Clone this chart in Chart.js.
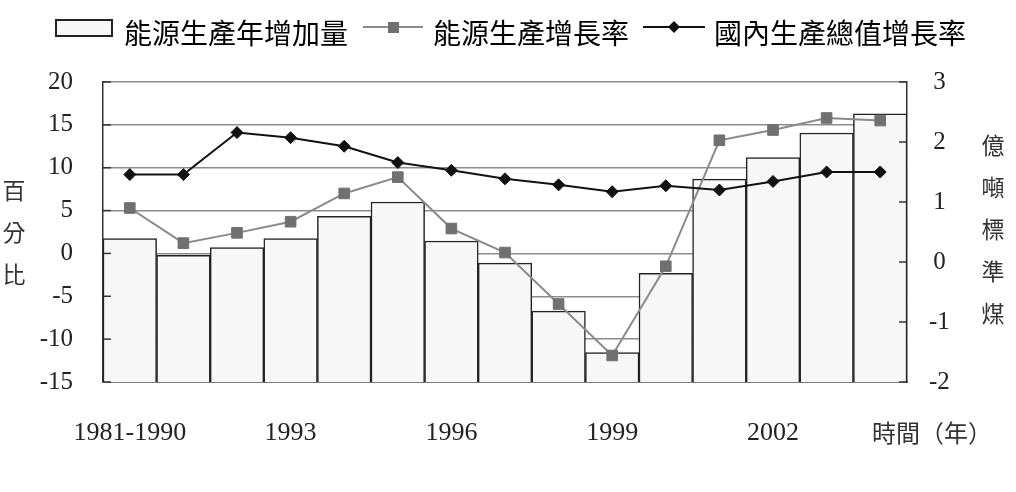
<!DOCTYPE html>
<html>
<head>
<meta charset="utf-8">
<script src="https://cdn.jsdelivr.net/npm/chart.js@4/dist/chart.umd.min.js"></script>
<style>
  body { margin: 0; background: #fff; }
  #divGrafico { width: 1016px; height: 492px; }
</style>
</head>
<body>
<div id="divGrafico"><canvas id="grafico"></canvas></div>
<script>
// categorias y series
const years = ['1981-1990', '1991', '1992', '1993', '1994', '1995', '1996', '1997',
  '1998', '1999', '2000', '2001', '2002', '2003', '2004'];
const shownYears = ['1981-1990', '1993', '1996', '1999', '2002'];
const incremento = [0.39, 0.11, 0.24, 0.39, 0.76, 1.0, 0.35, -0.02, -0.82, -1.51, -0.19, 1.38, 1.74, 2.15, 2.47];
const crecEnergia = [5.3, 1.2, 2.4, 3.7, 7.0, 8.9, 2.9, 0.1, -5.9, -11.9, -1.5, 13.2, 14.4, 15.8, 15.5];
const crecPib = [9.2, 9.2, 14.1, 13.5, 12.5, 10.6, 9.7, 8.7, 8.0, 7.2, 7.9, 7.4, 8.4, 9.5, 9.5];
const nombres = ['能源生產年增加量', '能源生產增長率', '國內生產總值增長率'];
const tituloIzq = '百分比';
const tituloDer = '億噸標準煤';
const tituloX = '時間（年）';

const serif = 'Liberation Serif';
const cjk = '"Noto Sans CJK TC"';

// simbolos de la leyenda
function simbolo(w, h, dibujar) {
  const c = document.createElement('canvas');
  c.width = w;
  c.height = h;
  dibujar(c.getContext('2d'));
  return c;
}
const simBarra = simbolo(58, 28, (g) => {
  g.fillStyle = '#f7f7f7';
  g.fillRect(1, 1, 56, 16);
  g.strokeStyle = '#222';
  g.lineWidth = 2;
  g.strokeRect(1, 1, 56, 16);
});
const simGris = simbolo(60, 28, (g) => {
  g.strokeStyle = '#8a8a8a';
  g.lineWidth = 2;
  g.beginPath(); g.moveTo(0, 8); g.lineTo(60, 8); g.stroke();
  g.fillStyle = '#707070';
  g.fillRect(25, 3, 11, 11);
});
const simNegro = simbolo(62, 28, (g) => {
  g.strokeStyle = '#111';
  g.lineWidth = 2;
  g.beginPath(); g.moveTo(0, 8); g.lineTo(62, 8); g.stroke();
  g.fillStyle = '#111';
  g.beginPath();
  g.moveTo(31, 2); g.lineTo(37, 8); g.lineTo(31, 14); g.lineTo(25, 8);
  g.closePath(); g.fill();
});
const simbolos = [simBarra, simGris, simNegro];

// marcas cortas hacia dentro en los dos ejes verticales
const marcasInternas = {
  id: 'marcasInternas',
  afterDatasetsDraw(chart) {
    const { ctx, chartArea, scales } = chart;
    ctx.save();
    ctx.strokeStyle = '#333';
    ctx.lineWidth = 1.5;
    scales.y.ticks.forEach((t) => {
      const py = scales.y.getPixelForValue(t.value);
      ctx.beginPath(); ctx.moveTo(chartArea.left, py); ctx.lineTo(chartArea.left + 8, py); ctx.stroke();
    });
    scales.y1.ticks.forEach((t) => {
      const py = scales.y1.getPixelForValue(t.value);
      ctx.beginPath(); ctx.moveTo(chartArea.right - 8, py); ctx.lineTo(chartArea.right, py); ctx.stroke();
    });
    ctx.restore();
  }
};

// titulos de ejes en vertical
const titulosEjes = {
  id: 'titulosEjes',
  afterDraw(chart) {
    const { ctx, chartArea } = chart;
    const midY = (chartArea.top + chartArea.bottom) / 2;
    ctx.save();
    ctx.fillStyle = '#333';
    ctx.textAlign = 'center';
    ctx.textBaseline = 'middle';
    ctx.font = '23px ' + cjk;
    const izq = tituloIzq.split('');
    izq.forEach((c, i) => ctx.fillText(c, 14, midY + (i - (izq.length - 1) / 2) * 42));
    const der = tituloDer.split('');
    der.forEach((c, i) => ctx.fillText(c, 993, midY - 3 + (i - (der.length - 1) / 2) * 42));
    ctx.font = '24px ' + cjk;
    ctx.fillText(tituloX, 932, chartArea.bottom + 51);
    ctx.restore();
  }
};

const tickFont = { family: serif, size: 25 };

new Chart(document.getElementById('grafico'), {
  data: {
    labels: years,
    datasets: [
      {
        type: 'bar',
        label: nombres[0],
        data: incremento,
        yAxisID: 'y1',
        base: -2,
        backgroundColor: '#f7f7f7',
        borderColor: '#222',
        borderWidth: 1.5,
        categoryPercentage: 1,
        barPercentage: 1,
        order: 3
      },
      {
        type: 'line',
        label: nombres[1],
        data: crecEnergia,
        yAxisID: 'y',
        borderColor: '#8a8a8a',
        borderWidth: 2,
        pointStyle: 'rect',
        pointRadius: 7.5,
        pointBackgroundColor: '#707070',
        pointBorderColor: '#707070',
        pointBorderWidth: 1,
        tension: 0,
        order: 2
      },
      {
        type: 'line',
        label: nombres[2],
        data: crecPib,
        yAxisID: 'y',
        borderColor: '#111',
        borderWidth: 2,
        pointStyle: 'rectRot',
        pointRadius: 6,
        pointBackgroundColor: '#111',
        pointBorderColor: '#111',
        pointBorderWidth: 1,
        tension: 0,
        order: 1
      }
    ]
  },
  options: {
    responsive: true,
    maintainAspectRatio: false,
    animation: false,
    events: [],
    layout: { padding: { left: 8, right: 0, top: 0, bottom: 0 } },
    plugins: {
      tooltip: { enabled: false },
      legend: {
        position: 'top',
        labels: {
          usePointStyle: true,
          pointStyleWidth: 52,
          padding: 19,
          color: '#333',
          font: { family: 'Noto Sans CJK TC', size: 28 },
          generateLabels: () => nombres.map((n, i) => ({
            text: n,
            pointStyle: simbolos[i],
            fillStyle: '#fff',
            strokeStyle: '#fff',
            lineWidth: 0,
            hidden: false,
            datasetIndex: i
          }))
        }
      }
    },
    scales: {
      x: {
        type: 'category',
        offset: true,
        grid: { display: false, drawTicks: false },
        border: { color: '#333', width: 1.5 },
        ticks: {
          autoSkip: false,
          maxRotation: 0,
          padding: 36,
          color: '#222',
          font: { family: serif, size: 26 },
          callback: (v, i) => (shownYears.includes(years[i]) ? years[i] : '')
        },
        afterFit: (s) => { s.height = 110; }
      },
      xTop: {
        type: 'category',
        position: 'top',
        grid: { display: false, drawTicks: false },
        border: { display: false },
        ticks: { display: false },
        afterFit: (s) => { s.height = 25; }
      },
      y: {
        position: 'left',
        min: -15,
        max: 20,
        ticks: { stepSize: 5, padding: 30, color: '#222', font: tickFont },
        grid: { color: '#8c8c8c', lineWidth: 1.5, drawTicks: false },
        border: { color: '#333', width: 1.5 },
        afterFit: (s) => { s.width = 95; }
      },
      y1: {
        position: 'right',
        min: -2,
        max: 3,
        ticks: { stepSize: 1, padding: 22, crossAlign: 'center', color: '#222', font: tickFont },
        grid: { display: false, drawTicks: false },
        border: { color: '#333', width: 1.5 },
        afterFit: (s) => { s.width = 109; }
      }
    }
  },
  plugins: [marcasInternas, titulosEjes]
});
</script>
</body>
</html>
